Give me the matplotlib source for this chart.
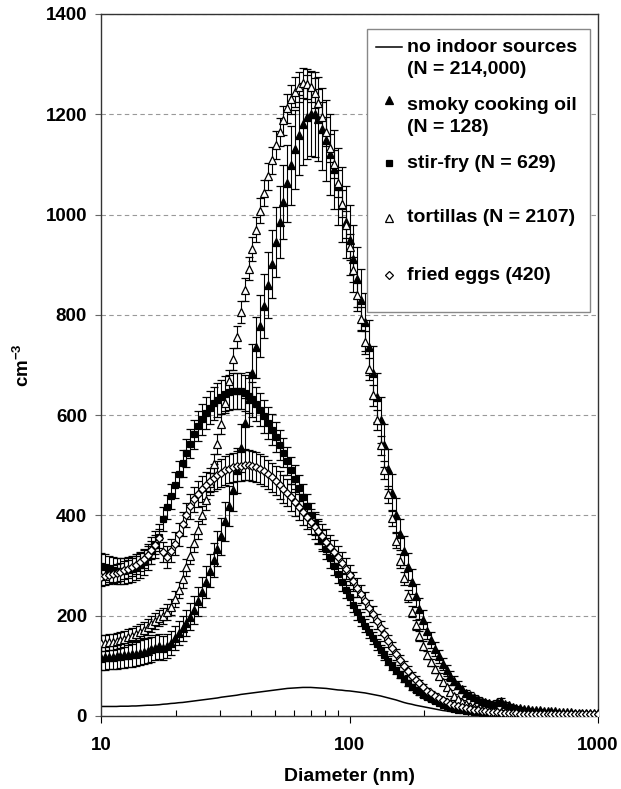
import matplotlib
matplotlib.use('Agg')
import matplotlib.pyplot as plt
import numpy as np
from matplotlib.patches import Rectangle

plt.rcParams['font.family'] = ['Liberation Sans', 'DejaVu Sans']
plt.rcParams['font.weight'] = 'bold'
plt.rcParams['mathtext.default'] = 'regular'

# SMPS bin centres, 64 channels per decade, 10 - 1000 nm
diameter = np.logspace(1, 3, 129)

no_sources = [
    19, 19, 19, 19, 19, 19.5, 19.5, 19.5, 20, 20, 20.5, 21, 21.5, 21.5, 22, 22.5,
    23.5, 24, 25, 25.5, 26.5, 27, 28, 29, 30, 31, 32, 33, 34, 35, 36, 37.5,
    38.5, 39.5, 40.5, 41.5, 43, 44, 45, 46, 47, 48, 49, 50, 51, 52, 53, 54,
    55, 55.5, 56, 56.5, 57, 57, 57, 56.5, 56, 55.5, 55, 54, 53, 52, 51.5, 50.5,
    50, 49, 48, 47, 46, 44.5, 43, 41.5, 40, 38, 36, 34, 32, 29.5, 27, 25,
    23.5, 21.5, 20, 18.5, 17, 15.5, 14, 12.5, 11, 10, 9, 8, 7, 6, 5.5, 5,
    4.5, 4.2, 3.9, 3.6, 3.3, 3.1, 2.9, 2.8, 2.6, 2.5, 2.4, 2.3, 2.2, 2.1, 2, 2,
    1.9, 1.9, 1.8, 1.8, 1.7, 1.7, 1.6, 1.6, 1.5, 1.5, 1.4, 1.4, 1.3, 1.3, 1.2, 1.1,
    1.0]

smoky = [
    116, 117, 118, 118, 119, 120, 121, 122, 123, 124, 126, 128, 130, 133, 136, 139,
    136, 140, 146, 155, 165, 175, 186, 198, 212, 229, 248, 268, 290, 311, 334, 358,
    388, 418, 451, 490, 535, 584, 633, 685, 735, 778, 818, 860, 902, 945, 985, 1025,
    1062, 1098, 1130, 1158, 1180, 1195, 1201, 1200, 1190, 1170, 1148, 1120, 1090, 1056, 1020, 985,
    950, 912, 872, 830, 785, 735, 685, 636, 590, 540, 492, 445, 400, 362, 330, 298,
    268, 240, 214, 192, 170, 152, 134, 119, 104, 91, 80, 70, 61, 53, 46, 41,
    37, 33, 29, 27, 25, 23, 28, 30, 24, 21, 18.5, 16.5, 15, 14, 13, 12.2,
    11.5, 11, 10.5, 10, 9.5, 9, 8.5, 8, 7.5, 7.2, 6.9, 6.6, 6.3, 6, 5.7, 5.4,
    5]
smoky_err = [
    25, 25, 25, 25, 25, 25, 25, 25, 25, 25, 25, 25, 25, 25, 25, 25,
    24, 24, 24, 24, 24, 25, 26, 27, 28, 29, 30, 32, 33, 34, 35, 36,
    38, 40, 42, 45, 48, 51, 54, 57, 60, 62, 64, 66, 68, 70, 72, 74,
    76, 78, 79, 80, 82, 84, 85, 85, 84, 82, 81, 80, 78, 76, 74, 72,
    70, 67, 64, 61, 58, 55, 52, 49, 46, 43, 40, 37, 34, 31, 29, 27,
    25, 23, 21, 19, 17, 16, 14, 13, 12, 11, 10, 9, 8, 7, 6.5, 6,
    5.5, 5, 4.5, 4.5, 4, 4, 4.5, 5, 4, 3.5, 3, 3, 2.5, 2.5, 2.5, 2.5,
    2, 2, 2, 2, 2, 2, 2, 2, 2, 2, 2, 2, 2, 2, 2, 2,
    2]

stirfry = [
    300, 297, 294, 291, 289, 289, 290, 291, 294, 297, 302, 308, 318, 330, 342, 356,
    392, 416, 438, 460, 482, 504, 524, 543, 562, 578, 592, 604, 615, 624, 631, 637,
    643, 646, 648, 649, 648, 645, 639, 632, 622, 611, 598, 585, 571, 556, 541, 525,
    508, 490, 473, 455, 437, 419, 401, 384, 367, 350, 334, 316, 300, 284, 268, 252,
    237, 222, 207, 193, 180, 167, 155, 143, 132, 121, 110, 100, 91, 82, 74, 66,
    58, 52, 47, 42, 37, 33, 29, 26, 22, 19, 16.5, 14.5, 12.5, 11, 10, 9,
    8, 7.3, 6.8, 6.3, 6, 5.7, 5.4, 5.1, 4.9, 4.7, 4.5, 4.3, 4.1, 4, 3.8, 3.7,
    3.6, 3.4, 3.3, 3.2, 3.1, 3, 2.9, 2.8, 2.7, 2.6, 2.5, 2.4, 2.3, 2.3, 2.2, 2.2,
    2.1]
stirfry_err = [
    26, 26, 26, 26, 26, 26, 26, 26, 26, 26, 26, 26, 26, 26, 26, 26,
    24, 24, 25, 26, 26, 27, 28, 29, 29, 30, 31, 32, 33, 33, 34, 34,
    35, 35, 36, 36, 36, 36, 35, 35, 34, 33, 33, 32, 31, 30, 30, 29,
    28, 27, 27, 26, 25, 24, 24, 23, 22, 21, 21, 20, 19, 18, 18, 17,
    16, 15, 15, 14, 13, 12, 12, 11, 10, 9, 9, 8, 7.5, 7, 6.5, 6,
    5.5, 5, 4.5, 4.5, 4, 3.5, 3.5, 3, 3, 2.5, 2.5, 2, 2, 2, 2, 1.5,
    1.5, 1.5, 1.5, 1.5, 1.5, 1.5, 1.5, 1.5, 1.5, 1.5, 1.5, 1.5, 1.5, 1.5, 1.5, 1.5,
    1, 1, 1, 1, 1, 1, 1, 1, 1, 1, 1, 1, 1, 1, 1, 1,
    1]

tortillas = [
    145, 146, 147, 148, 150, 152, 154, 157, 160, 163, 167, 172, 178, 184, 190, 196,
    200, 207, 218, 233, 251, 273, 297, 320, 345, 371, 400, 430, 465, 503, 542, 582,
    625, 669, 712, 756, 805, 850, 892, 932, 970, 1008, 1043, 1076, 1108, 1138, 1164, 1188,
    1212, 1230, 1245, 1255, 1262, 1261, 1254, 1242, 1222, 1195, 1165, 1133, 1100, 1062, 1022, 980,
    935, 890, 840, 792, 745, 692, 640, 590, 540, 490, 442, 395, 350, 310, 275, 240,
    208, 182, 160, 140, 122, 107, 93, 79, 68, 57, 47, 40, 33, 28, 23, 20,
    17, 14, 12, 10.5, 9.5, 8.5, 8, 7.5, 7, 6.5, 6, 5.7, 5.4, 5.1, 4.9, 4.7,
    4.5, 4.3, 4.1, 4, 3.8, 3.7, 3.6, 3.5, 3.4, 3.3, 3.2, 3.1, 3, 2.9, 2.8, 2.7,
    2.7]
tortillas_err = [
    16, 16, 16, 16, 16, 16, 16, 16, 16, 16, 16, 16, 16, 16, 16, 16,
    16, 16, 16, 16, 16, 17, 17, 17, 18, 18, 18, 19, 19, 19, 20, 20,
    20, 21, 21, 22, 22, 23, 23, 24, 25, 25, 26, 27, 27, 28, 28, 29,
    29, 29, 30, 30, 30, 30, 30, 30, 29, 29, 29, 28, 28, 27, 27, 27,
    26, 25, 25, 24, 23, 22, 21, 20, 19, 18, 17, 16, 15, 14, 13, 12,
    11, 10, 9.5, 9, 8, 7.5, 7, 6, 5.5, 5, 4.5, 4, 3.5, 3, 3, 2.5,
    2.5, 2.5, 2, 2, 2, 2, 2, 2, 2, 2, 1.5, 1.5, 1.5, 1.5, 1.5, 1.5,
    1.5, 1.5, 1.5, 1.5, 1.5, 1.5, 1.5, 1.5, 1.5, 1.5, 1.5, 1.5, 1.5, 1.5, 1.5, 1.5,
    1]

fried_eggs = [
    278, 279, 281, 283, 285, 288, 291, 294, 298, 302, 307, 313, 322, 332, 342, 354,
    328, 318, 330, 344, 362, 383, 401, 418, 432, 443, 452, 460, 468, 475, 480, 485,
    490, 493, 496, 498, 499, 500, 500, 499, 496, 492, 488, 482, 476, 469, 461, 453,
    445, 436, 426, 416, 407, 397, 387, 377, 368, 358, 348, 338, 328, 317, 305, 294,
    282, 269, 256, 243, 230, 216, 203, 189, 176, 163, 150, 136, 123, 111, 100, 90,
    80, 72, 65, 58, 50, 45, 40, 35, 31, 27, 24, 21, 19, 17, 15, 13.5,
    12, 11, 10, 9, 8.2, 7.5, 7, 6.5, 6, 5.6, 5.3, 5, 4.8, 4.6, 4.4, 4.2,
    4.1, 4, 3.9, 3.8, 3.7, 3.6, 3.5, 3.4, 3.3, 3.2, 3.2, 3.1, 3.1, 3, 3, 3,
    3]
fried_eggs_err = [
    18, 18, 18, 18, 18, 18, 18, 18, 18, 18, 18, 18, 18, 18, 18, 18,
    20, 22, 22, 22, 23, 24, 24, 25, 25, 26, 26, 27, 27, 27, 28, 28,
    29, 29, 29, 30, 30, 30, 30, 30, 30, 30, 30, 29, 29, 29, 28, 28,
    27, 27, 27, 26, 26, 25, 25, 25, 24, 24, 24, 23, 23, 22, 22, 21,
    20, 19, 19, 18, 17, 16, 16, 15, 14, 13, 12, 11.5, 11, 10, 9.5, 9,
    8, 7.5, 7, 6.5, 6, 5.5, 5, 4.5, 4, 3.5, 3.5, 3, 3, 2.5, 2.5, 2.5,
    2, 2, 2, 2, 2, 1.5, 1.5, 1.5, 1.5, 1.5, 1.5, 1.5, 1.5, 1.5, 1.5, 1.5,
    1, 1, 1, 1, 1, 1, 1, 1, 1, 1, 1, 1, 1, 1, 1, 1,
    1]

fig = plt.figure(figsize=(6.21, 7.89), dpi=100)
ax = fig.add_axes([101 / 621, 73 / 789, 497 / 621, 702 / 789])

ax.plot(diameter, no_sources, color='black', lw=1.1, zorder=2)

series = [
    (smoky, smoky_err, '^', 'black', 5.5),
    (stirfry, stirfry_err, 's', 'black', 4.5),
    (tortillas, tortillas_err, '^', 'white', 5.5),
    (fried_eggs, fried_eggs_err, 'D', 'white', 3.8),
]
for vals, err, mk, face, size in series:
    ax.errorbar(diameter, vals, yerr=err, fmt=mk, ms=size, mfc=face, mec='black',
                mew=0.9, ecolor='black', elinewidth=0.8, capsize=3, capthick=0.8,
                zorder=3)

ax.set_xscale('log')
ax.set_xlim(10, 1000)
ax.set_ylim(0, 1400)
ax.set_yticks(range(0, 1401, 200))
ax.set_xticks([10, 100, 1000])
ax.set_xticklabels(['10', '100', '1000'])
ax.xaxis.set_minor_formatter(matplotlib.ticker.NullFormatter())
ax.yaxis.grid(True, linestyle=(0, (4, 3)), color='#999999', lw=0.8)
ax.set_axisbelow(True)

ax.tick_params(axis='x', which='major', direction='out', length=5, width=0.8,
               pad=10, labelsize=13.5)
ax.tick_params(axis='x', which='minor', direction='in', length=4, width=0.8)
ax.tick_params(axis='y', direction='out', length=4, width=0.8, pad=6,
               labelsize=13.5, color='#666666')
for sp in ax.spines.values():
    sp.set_color('#333333')
    sp.set_linewidth(1)

ax.set_xlabel('Diameter (nm)', fontsize=14, fontweight='bold', labelpad=10)
ax.set_ylabel(r'cm$^{-3}$', fontsize=13.5, fontweight='bold')
ax.yaxis.set_label_coords(-0.137, 0.5)

# legend drawn by hand so that markers line up with the first text line
def ax_x(px):
    return (px - 101) / 497

def ax_y(py):
    return (716 - py) / 702

ax.add_patch(Rectangle((ax_x(367), ax_y(312)), ax_x(590) - ax_x(367),
                       ax_y(29) - ax_y(312), transform=ax.transAxes,
                       facecolor='white', edgecolor='#888888', lw=1, zorder=5))

ax.plot([ax_x(376), ax_x(402)], [ax_y(47), ax_y(47)], transform=ax.transAxes,
        color='black', lw=1.1, zorder=6, clip_on=False)
handles = [
    (ax_y(100), '^', 'black', 5.5),
    (ax_y(163), 's', 'black', 4.5),
    (ax_y(218), '^', 'white', 5.5),
    (ax_y(275), 'D', 'white', 3.8),
]
for y, mk, face, size in handles:
    ax.plot([ax_x(389)], [y], transform=ax.transAxes, marker=mk, ms=size,
            mfc=face, mec='black', mew=0.9, zorder=6, clip_on=False)

legend_lines = [
    (48, 'no indoor sources'),
    (70, '(N = 214,000)'),
    (105, 'smoky cooking oil'),
    (127, '(N = 128)'),
    (163, 'stir-fry (N = 629)'),
    (218, 'tortillas (N = 2107)'),
    (275, 'fried eggs (420)'),
]
for py, txt in legend_lines:
    ax.text(ax_x(407), ax_y(py), txt, transform=ax.transAxes, fontsize=14,
            fontweight='bold', va='center', ha='left', zorder=7)

fig.savefig('out.png', dpi=100)
